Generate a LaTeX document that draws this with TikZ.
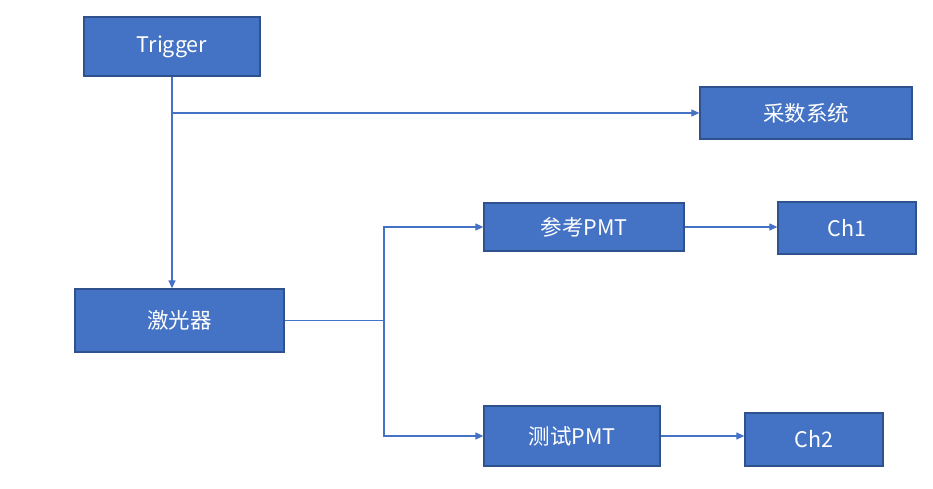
\documentclass[tikz,border=0pt]{standalone}
\usepackage{fontspec}
\setmainfont{Noto Sans CJK SC}
\usepackage{tikz}
\usepackage{xcolor}
\usetikzlibrary{arrows.meta, positioning, calc}
\definecolor{cFill}{HTML}{4472C4}
\definecolor{cEdge}{HTML}{2F528F}
\tikzset{
	box/.style ={rectangle, draw=cEdge, line width=1.3pt, fill=cFill, text=white, align=center, inner sep=0pt, font=\fontsize{21.5}{26}\selectfont},
	sig/.style ={-{Triangle[length=8pt, width=7pt]}, draw=cFill, line width=1.2pt},
}
\begin{document}
\begin{tikzpicture}[x=1pt, y=-1pt]
	\useasboundingbox (0,0) rectangle (933,489);
	\node[box, minimum width=176pt, minimum height=59pt] (trig) at (172,46.5) {Trigger};
	\node[box, minimum width=212pt, minimum height=52pt] (daq) at (806,113) {采数系统};
	\node[box, minimum width=209pt, minimum height=63pt] (laser) at (179.5,320.5) {激光器};
	\node[box, minimum width=200pt, minimum height=48pt] (refpmt) at (584,227) {参考PMT};
	\node[box, minimum width=176pt, minimum height=60pt] (testpmt) at (572,436) {测试PMT};
	\node[box, minimum width=138pt, minimum height=52pt] (ch1) at (847,228) {Ch1};
	\node[box, minimum width=138pt, minimum height=53pt] (ch2) at (814,439.5) {Ch2};
	\coordinate (split) at (384,320.5);
	% trigger fan-out
	\draw[sig] (trig.south) -- (trig.south |- laser.north);
	\draw[sig] (trig.south |- daq.west) -- (daq.west);
	% laser to both PMTs
	\draw[draw=cFill, line width=1.2pt] (laser.east) -- (split);
	\draw[sig] (split) |- (refpmt.west);
	\draw[sig] (split) |- (testpmt.west);
	\draw[sig] (refpmt.east) -- (refpmt.east -| ch1.west);
	\draw[sig] (testpmt.east) -- (testpmt.east -| ch2.west);
\end{tikzpicture}
\end{document}
